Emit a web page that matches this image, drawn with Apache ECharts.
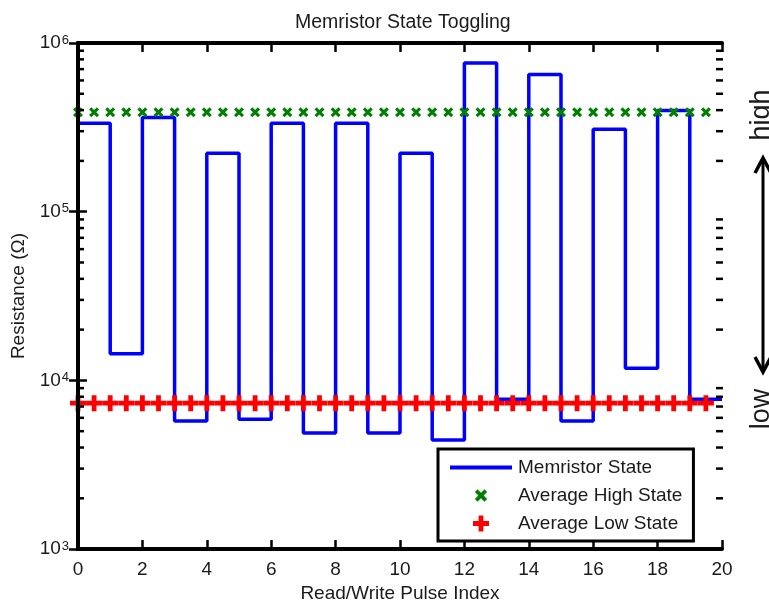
<!DOCTYPE html>
<html>
<head>
<meta charset="utf-8">
<script src="https://cdn.jsdelivr.net/npm/echarts@6/dist/echarts.min.js"></script>
<style>
html,body{margin:0;padding:0;background:#fff;}
#chart{width:769px;height:608px;}
</style>
</head>
<body>
<div id="chart"></div>
<script>
// ---- data ----
const pulseIndex = [0,1,2,3,4,5,6,7,8,9,10,11,12,13,14,15,16,17,18,19,20];
const resistance = [334000,14400,362000,5740,222000,5880,334000,4880,334000,4880,222000,4440,762000,7730,651000,5740,308000,11800,398000,7730,7730];
const avgHighValue = 389000;
const avgLowValue = 7330;
const markerX = [0,0.5,1,1.5,2,2.5,3,3.5,4,4.5,5,5.5,6,6.5,7,7.5,8,8.5,9,9.5,10,10.5,11,11.5,12,12.5,13,13.5,14,14.5,15,15.5,16,16.5,17,17.5,18,18.5,19,19.5];
const xTickValues = [0,2,4,6,8,10,12,14,16,18,20];
const yMinorTickValues = [2000,3000,4000,5000,6000,7000,8000,9000,20000,30000,40000,50000,60000,70000,80000,90000,200000,300000,400000,500000,600000,700000,800000,900000];

const FONT = 'Liberation Sans, Arial, sans-serif';
const TXT = '#1a1a1a';
const xPath = 'path://M0,2.2 L2.2,0 L5,2.8 L7.8,0 L10,2.2 L7.2,5 L10,7.8 L7.8,10 L5,7.2 L2.2,10 L0,7.8 L2.8,5 Z';
const xPathLegend = 'path://M-1.5,-1.5 h0.01 v0.01 h-0.01 Z M11.5,11.5 h-0.01 v-0.01 h0.01 Z M0,2.2 L2.2,0 L5,2.8 L7.8,0 L10,2.2 L7.2,5 L10,7.8 L7.8,10 L5,7.2 L2.2,10 L0,7.8 L2.8,5 Z';
const plusPath = 'path://M3.5,0 H6.5 V3.5 H10 V6.5 H6.5 V10 H3.5 V6.5 H0 V3.5 H3.5 Z';
const linePathLegend = 'path://M0,0 H62 V4 H0 Z';

const stateData = pulseIndex.map((x, i) => [x, resistance[i]]);
const highData = markerX.map(x => [x, avgHighValue]);
const lowData = markerX.map(x => [x, avgLowValue]);

const chart = echarts.init(document.getElementById('chart'), null, {renderer: 'canvas'});

const axisCommon = {
  axisLine: {show: true, lineStyle: {color: '#000', width: 4}},
  splitLine: {show: false},
  z: 10
};

const option = {
  animation: false,
  backgroundColor: '#fff',
  textStyle: {fontFamily: FONT},
  title: {
    text: 'Memristor State Toggling',
    left: 290, top: 8,
    textStyle: {fontFamily: FONT, fontSize: 19.5, fontWeight: 'normal', color: TXT}
  },
  grid: {left: 78, right: 47, top: 43, bottom: 55, containLabel: false},
  legend: {
    orient: 'vertical',
    left: 438, top: 449,
    padding: [9, 11, 8, 12],
    itemGap: 9,
    itemWidth: 62, itemHeight: 16,
    borderColor: '#000', borderWidth: 3,
    backgroundColor: '#fff',
    borderRadius: 0,
    z: 20,
    textStyle: {fontFamily: FONT, fontSize: 19, color: TXT, padding: [0, 0, 0, 1]},
    data: [
      {name: 'Memristor State', icon: linePathLegend},
      {name: 'Average High State', icon: xPathLegend},
      {name: 'Average Low State', icon: plusPath}
    ]
  },
  xAxis: [
    Object.assign({}, axisCommon, {
      type: 'value', min: 0, max: 20, interval: 2, position: 'bottom',
      axisTick: {show: true, inside: true, length: 9, lineStyle: {color: '#000', width: 2.5}},
      axisLabel: {fontFamily: FONT, fontSize: 19, color: TXT, margin: 11},
      name: 'Read/Write Pulse Index', nameLocation: 'middle', nameGap: 28,
      nameTextStyle: {fontFamily: FONT, fontSize: 19, color: TXT}
    }),
    Object.assign({}, axisCommon, {
      type: 'value', min: 0, max: 20, interval: 2, position: 'top',
      axisTick: {show: true, inside: true, length: 9, lineStyle: {color: '#000', width: 2.5}},
      axisLabel: {show: false}
    })
  ],
  yAxis: [
    Object.assign({}, axisCommon, {
      type: 'log', logBase: 10, min: 1000, max: 1000000, position: 'left',
      axisTick: {show: true, inside: true, length: 9, lineStyle: {color: '#000', width: 2.5}},
      axisLabel: {
        fontFamily: FONT, margin: 9, color: TXT,
        formatter: v => '{b|10}{s|' + Math.round(Math.log10(v)) + '}',
        rich: {
          b: {fontFamily: FONT, fontSize: 19, color: TXT, verticalAlign: 'bottom', lineHeight: 19, padding: [6, 0, 0, 0]},
          s: {fontFamily: FONT, fontSize: 13, color: TXT, verticalAlign: 'top', lineHeight: 13, padding: [0, 0, 12, 1]}
        }
      },
      name: 'Resistance (Ω)', nameLocation: 'middle', nameGap: 43,
      nameTextStyle: {fontFamily: FONT, fontSize: 19, color: TXT}
    }),
    Object.assign({}, axisCommon, {
      type: 'log', logBase: 10, min: 1000, max: 1000000, position: 'right',
      axisTick: {show: true, inside: true, length: 9, lineStyle: {color: '#000', width: 2.5}},
      axisLabel: {show: false}
    })
  ],
  series: [
    {
      name: 'Memristor State', type: 'line', step: 'end',
      data: stateData, showSymbol: false, symbol: 'none',
      lineStyle: {color: '#0000ff', width: 3.5},
      itemStyle: {color: '#0000ff'},
      z: 3, clip: false
    },
    {
      name: 'Average High State', type: 'scatter',
      data: highData, symbol: xPath, symbolSize: 10,
      itemStyle: {color: '#008000', opacity: 1},
      z: 4, clip: false
    },
    {
      name: 'Average Low State', type: 'scatter',
      data: lowData, symbol: plusPath, symbolSize: 16,
      itemStyle: {color: '#ff0000', opacity: 1},
      z: 4, clip: false
    },
    {
      name: 'minorTicks', type: 'custom',
      data: yMinorTickValues.map(v => [0, v]),
      silent: true, clip: false, z: 11,
      renderItem: function (params, api) {
        const v = api.value(1);
        const pL = api.coord([0, v]);
        const pR = api.coord([20, v]);
        return {
          type: 'group',
          children: [
            {type: 'line', shape: {x1: pL[0] - 1, y1: pL[1], x2: pL[0] + 6, y2: pL[1]}, style: {stroke: '#000', lineWidth: 2.5}},
            {type: 'line', shape: {x1: pR[0] + 1, y1: pR[1], x2: pR[0] - 6, y2: pR[1]}, style: {stroke: '#000', lineWidth: 2.5}}
          ]
        };
      }
    }
  ],
  graphic: [
    {
      type: 'polyline', silent: true,
      shape: {points: [[763, 158], [763, 372]]},
      style: {stroke: '#000', lineWidth: 3, fill: null}
    },
    {
      type: 'polyline', silent: true,
      shape: {points: [[755, 173], [763, 158], [771, 173]]},
      style: {stroke: '#000', lineWidth: 3.5, fill: null, lineJoin: 'miter'}
    },
    {
      type: 'polyline', silent: true,
      shape: {points: [[755, 357], [763, 372], [771, 357]]},
      style: {stroke: '#000', lineWidth: 3.5, fill: null, lineJoin: 'miter'}
    },
    {
      type: 'text', silent: true,
      x: 762, y: 115, rotation: Math.PI / 2,
      style: {text: 'high', fontFamily: FONT, fontSize: 27, fill: TXT, align: 'center', verticalAlign: 'middle'}
    },
    {
      type: 'text', silent: true,
      x: 762, y: 409, rotation: Math.PI / 2,
      style: {text: 'low', fontFamily: FONT, fontSize: 27, fill: TXT, align: 'center', verticalAlign: 'middle'}
    }
  ]
};

chart.setOption(option);
</script>
</body>
</html>
